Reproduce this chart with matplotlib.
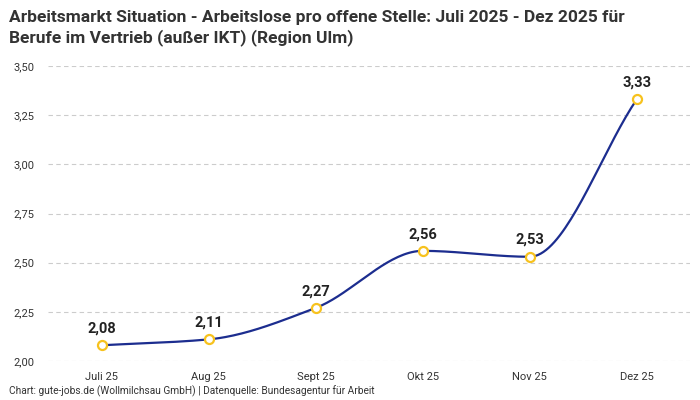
import numpy as np
import matplotlib.pyplot as plt

months = ['Juli 25', 'Aug 25', 'Sept 25', 'Okt 25', 'Nov 25', 'Dez 25']
values = [2.08, 2.11, 2.27, 2.56, 2.53, 3.33]
y_ticks = [2.00, 2.25, 2.50, 2.75, 3.00, 3.25, 3.50]

plt.rcParams['font.family'] = ['Roboto', 'DejaVu Sans']


def monotone_curve(x, y, steps=40):
    # Fritsch-Carlson monotone cubic, just for drawing the smooth line
    x = np.asarray(x, float)
    y = np.asarray(y, float)
    h = np.diff(x)
    d = np.diff(y) / h
    m = np.zeros_like(y)
    m[0], m[-1] = d[0], d[-1]
    for i in range(1, len(y) - 1):
        if d[i - 1] * d[i] > 0:
            m[i] = 2 / (1 / d[i - 1] + 1 / d[i])
    xs, ys = [], []
    for i in range(len(h)):
        t = np.linspace(0, 1, steps)
        h00 = 2 * t**3 - 3 * t**2 + 1
        h10 = t**3 - 2 * t**2 + t
        h01 = -2 * t**3 + 3 * t**2
        h11 = t**3 - t**2
        xs.append(x[i] + t * h[i])
        ys.append(h00 * y[i] + h10 * h[i] * m[i] + h01 * y[i + 1] + h11 * h[i] * m[i + 1])
    return np.concatenate(xs), np.concatenate(ys)


fig = plt.figure(figsize=(7, 4), dpi=100)
ax = fig.add_axes([0.069, 0.0975, 0.917, 0.7375])

pos = np.arange(len(months))
cx, cy = monotone_curve(pos, values)
ax.plot(cx, cy, color='#1c2d8f', lw=1.6, zorder=2)
ax.plot(pos, values, ls='none', marker='o', ms=6.5, mfc='white',
        mec='#f7c21e', mew=1.6, zorder=3)

for x, v in zip(pos, values):
    ax.annotate(f'{v:.2f}'.replace('.', ','), (x, v), xytext=(0, 7),
                textcoords='offset points', ha='center', va='bottom',
                fontsize=10.5, fontweight='bold', color='#222222')

ax.set_xlim(-0.5, len(months) - 0.5)
ax.set_ylim(2.0, 3.5)
ax.set_xticks(pos)
ax.set_xticklabels(months)
ax.set_yticks(y_ticks)
ax.set_yticklabels([f'{t:.2f}'.replace('.', ',') for t in y_ticks])
ax.tick_params(length=0, labelsize=8, colors='#333333')
ax.tick_params(axis='x', pad=8)
ax.tick_params(axis='y', pad=10)
ax.grid(axis='y', ls=(0, (4, 3)), color='#cccccc', lw=0.8)
for s in ax.spines.values():
    s.set_visible(False)

fig.text(0.013, 0.975, 'Arbeitsmarkt Situation - Arbeitslose pro offene Stelle: Juli 2025 - Dez 2025 für\nBerufe im Vertrieb (außer IKT) (Region Ulm)',
         ha='left', va='top', fontsize=12.5, fontweight='bold', color='#333333',
         linespacing=1.3)
fig.text(0.013, 0.008, 'Chart: gute-jobs.de (Wollmilchsau GmbH) | Datenquelle: Bundesagentur für Arbeit',
         ha='left', va='bottom', fontsize=7.3, color='#333333')

fig.savefig('out.png', dpi=100)
